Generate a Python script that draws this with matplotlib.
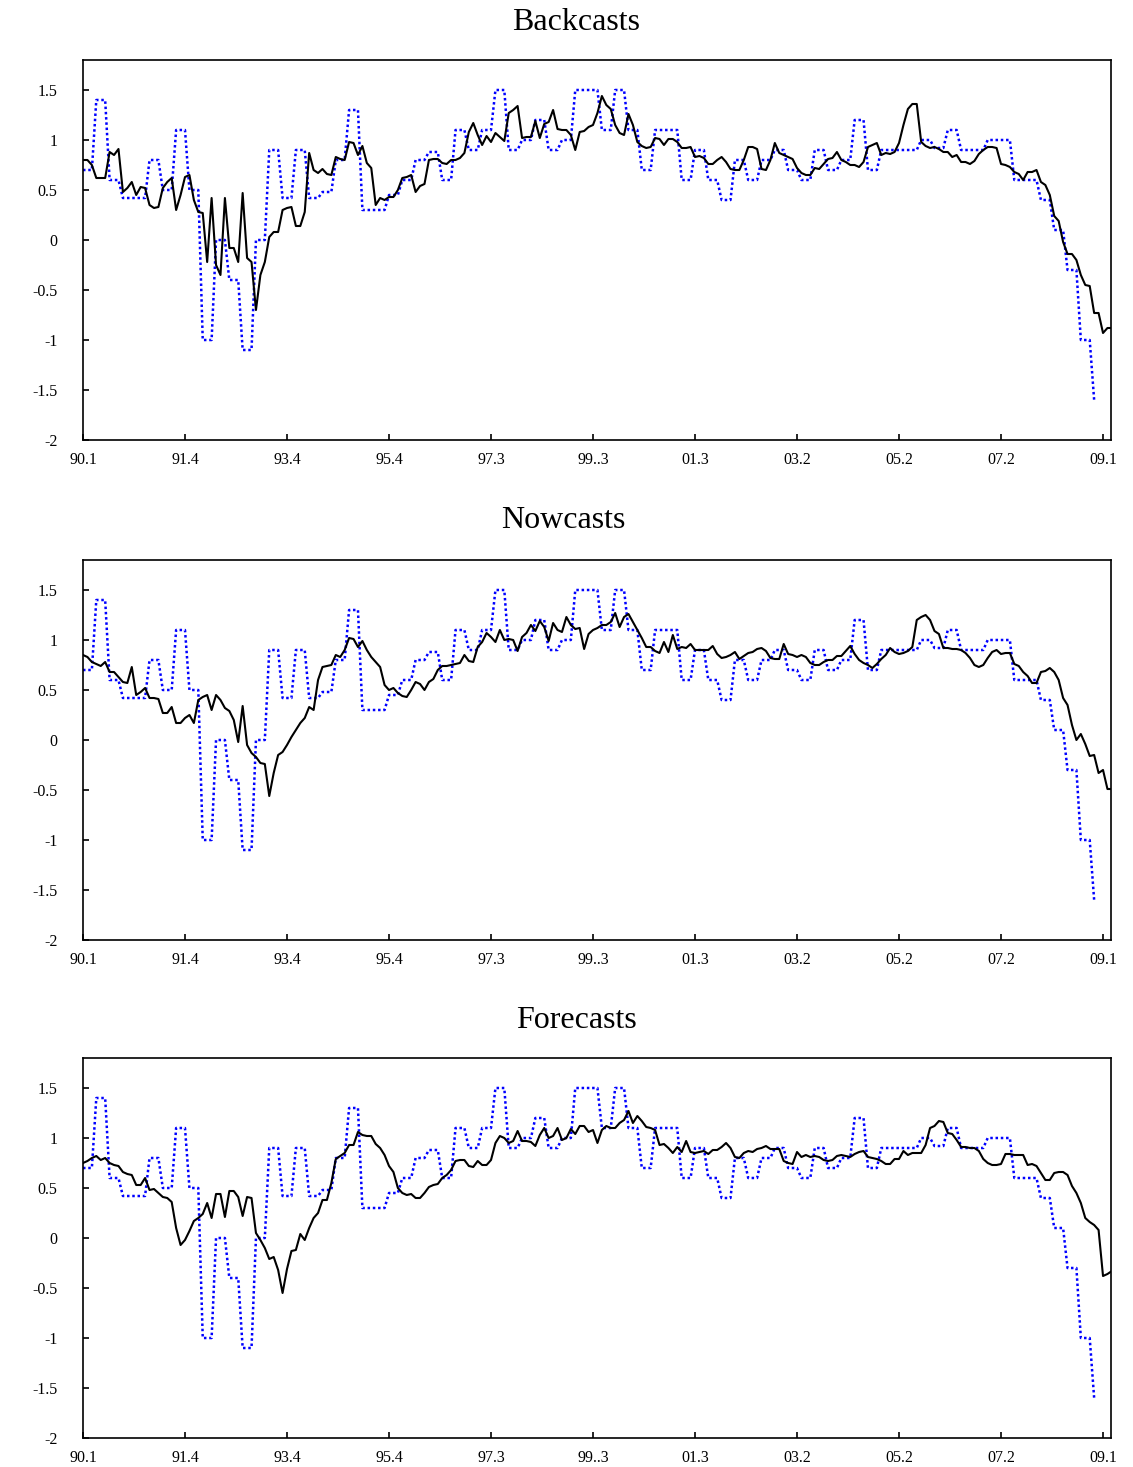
import numpy as np
import matplotlib
matplotlib.use("Agg")
import matplotlib.pyplot as plt

# Quarterly GDP growth (blue dotted step line), 1990Q1 .. 2009Q1
gdp_quarterly = [0.7, 1.4, 0.6, 0.42, 0.42, 0.8, 0.5, 1.1, 0.5, -1.0,
                 0.0, -0.4, -1.1, 0.0, 0.9, 0.42, 0.9, 0.42, 0.48, 0.8,
                 1.3, 0.3, 0.3, 0.45, 0.6, 0.8, 0.88, 0.6, 1.1, 0.9,
                 1.1, 1.5, 0.9, 1.0, 1.2, 0.9, 1.0, 1.5, 1.5, 1.1,
                 1.5, 1.1, 0.7, 1.1, 1.1, 0.6, 0.9, 0.6, 0.4, 0.8,
                 0.6, 0.8, 0.9, 0.7, 0.6, 0.9, 0.7, 0.8, 1.2, 0.7,
                 0.9, 0.9, 0.9, 1.0, 0.92, 1.1, 0.9, 0.9, 1.0, 1.0,
                 0.6, 0.6, 0.4, 0.1, -0.3, -1.0, -1.6]
gdp_monthly_len = 229

backcasts = [0.80, 0.80, 0.75, 0.62, 0.62, 0.62, 0.88, 0.85, 0.91, 0.48,
             0.52, 0.58, 0.45, 0.53, 0.52, 0.35, 0.32, 0.33, 0.52, 0.58,
             0.62, 0.30, 0.45, 0.63, 0.65, 0.40, 0.28, 0.27, -0.22, 0.42,
             -0.25, -0.35, 0.42, -0.08, -0.08, -0.22, 0.47, -0.18, -0.22, -0.70,
             -0.35, -0.22, 0.03, 0.08, 0.08, 0.30, 0.32, 0.33, 0.14, 0.14,
             0.28, 0.87, 0.70, 0.67, 0.71, 0.66, 0.65, 0.83, 0.81, 0.80,
             0.98, 0.97, 0.85, 0.94, 0.77, 0.72, 0.35, 0.42, 0.40, 0.43,
             0.43, 0.50, 0.62, 0.63, 0.65, 0.48, 0.54, 0.56, 0.80, 0.81,
             0.81, 0.77, 0.76, 0.80, 0.80, 0.82, 0.87, 1.08, 1.17, 1.05,
             0.95, 1.04, 0.98, 1.07, 1.03, 0.99, 1.27, 1.30, 1.34, 1.02,
             1.03, 1.03, 1.19, 1.02, 1.16, 1.18, 1.30, 1.11, 1.10, 1.10,
             1.05, 0.90, 1.08, 1.09, 1.13, 1.15, 1.27, 1.44, 1.35, 1.31,
             1.15, 1.07, 1.05, 1.26, 1.15, 0.98, 0.94, 0.92, 0.93, 1.02,
             1.01, 0.95, 1.01, 1.01, 0.98, 0.92, 0.92, 0.93, 0.83, 0.84,
             0.82, 0.76, 0.76, 0.80, 0.83, 0.78, 0.71, 0.70, 0.70, 0.80,
             0.93, 0.93, 0.91, 0.71, 0.70, 0.80, 0.97, 0.87, 0.85, 0.83,
             0.81, 0.72, 0.67, 0.65, 0.65, 0.72, 0.71, 0.76, 0.81, 0.82,
             0.88, 0.80, 0.78, 0.75, 0.75, 0.73, 0.78, 0.93, 0.95, 0.97,
             0.85, 0.87, 0.86, 0.88, 0.97, 1.15, 1.31, 1.36, 1.36, 0.98,
             0.94, 0.92, 0.93, 0.91, 0.88, 0.88, 0.83, 0.85, 0.78, 0.78,
             0.76, 0.79, 0.86, 0.90, 0.93, 0.93, 0.92, 0.76, 0.75, 0.73,
             0.68, 0.66, 0.60, 0.68, 0.68, 0.70, 0.58, 0.55, 0.45, 0.24,
             0.19, -0.02, -0.14, -0.14, -0.20, -0.35, -0.45, -0.46, -0.73, -0.73,
             -0.93, -0.88, -0.88]

nowcasts = [0.85, 0.83, 0.78, 0.76, 0.74, 0.78, 0.68, 0.68, 0.63, 0.58,
            0.57, 0.73, 0.45, 0.48, 0.52, 0.42, 0.42, 0.41, 0.27, 0.27,
            0.33, 0.17, 0.17, 0.22, 0.25, 0.17, 0.40, 0.43, 0.45, 0.30,
            0.45, 0.40, 0.32, 0.29, 0.20, -0.02, 0.34, -0.05, -0.13, -0.17,
            -0.23, -0.24, -0.56, -0.33, -0.15, -0.12, -0.05, 0.03, 0.10, 0.17,
            0.22, 0.33, 0.30, 0.60, 0.73, 0.74, 0.75, 0.85, 0.83, 0.90,
            1.02, 1.01, 0.93, 0.99, 0.90, 0.83, 0.78, 0.73, 0.55, 0.50,
            0.52, 0.47, 0.44, 0.43, 0.50, 0.58, 0.56, 0.50, 0.58, 0.61,
            0.70, 0.74, 0.74, 0.75, 0.76, 0.77, 0.85, 0.79, 0.78, 0.93,
            0.98, 1.07, 1.03, 0.98, 1.10, 1.00, 1.01, 1.00, 0.89, 1.03,
            1.07, 1.15, 1.09, 1.19, 1.13, 0.99, 1.17, 1.10, 1.08, 1.23,
            1.15, 1.11, 1.12, 0.91, 1.06, 1.10, 1.12, 1.15, 1.15, 1.18,
            1.27, 1.13, 1.23, 1.26, 1.18, 1.10, 1.02, 0.93, 0.93, 0.89,
            0.87, 0.98, 0.88, 1.05, 0.91, 0.93, 0.92, 0.96, 0.90, 0.90,
            0.90, 0.90, 0.94, 0.86, 0.82, 0.83, 0.85, 0.88, 0.81, 0.84,
            0.87, 0.88, 0.91, 0.92, 0.89, 0.82, 0.81, 0.81, 0.96, 0.86,
            0.85, 0.83, 0.85, 0.83, 0.77, 0.75, 0.75, 0.78, 0.80, 0.80,
            0.84, 0.84, 0.89, 0.94, 0.86, 0.80, 0.77, 0.75, 0.72, 0.76,
            0.81, 0.85, 0.92, 0.88, 0.86, 0.87, 0.89, 0.93, 1.20, 1.23,
            1.25, 1.20, 1.09, 1.06, 0.92, 0.92, 0.91, 0.91, 0.90, 0.87,
            0.82, 0.75, 0.73, 0.75, 0.82, 0.88, 0.90, 0.86, 0.87, 0.87,
            0.76, 0.74, 0.68, 0.64, 0.57, 0.57, 0.68, 0.69, 0.72, 0.68,
            0.60, 0.42, 0.35, 0.15, 0.00, 0.06, -0.04, -0.16, -0.15, -0.33,
            -0.30, -0.49, -0.49]

forecasts = [0.75, 0.77, 0.80, 0.82, 0.78, 0.80, 0.75, 0.73, 0.72, 0.66,
             0.64, 0.63, 0.53, 0.53, 0.60, 0.48, 0.49, 0.45, 0.41, 0.40,
             0.36, 0.10, -0.07, -0.02, 0.07, 0.17, 0.20, 0.24, 0.35, 0.20,
             0.44, 0.44, 0.21, 0.47, 0.47, 0.41, 0.22, 0.41, 0.40, 0.05,
             -0.02, -0.10, -0.21, -0.19, -0.32, -0.55, -0.31, -0.13, -0.12, 0.04,
             -0.02, 0.10, 0.20, 0.25, 0.38, 0.38, 0.55, 0.79, 0.82, 0.85,
             0.93, 0.93, 1.06, 1.03, 1.02, 1.02, 0.94, 0.90, 0.83, 0.72,
             0.66, 0.50, 0.45, 0.43, 0.44, 0.40, 0.40, 0.45, 0.51, 0.53,
             0.54, 0.60, 0.63, 0.68, 0.77, 0.78, 0.78, 0.72, 0.71, 0.77,
             0.73, 0.73, 0.78, 0.95, 1.02, 1.00, 0.95, 0.97, 1.07, 0.97,
             0.97, 0.96, 0.92, 1.03, 1.10, 1.00, 1.02, 1.10, 0.98, 1.00,
             1.09, 1.04, 1.12, 1.12, 1.06, 1.08, 0.95, 1.08, 1.12, 1.10,
             1.10, 1.15, 1.18, 1.27, 1.15, 1.22, 1.17, 1.11, 1.10, 1.08,
             0.93, 0.94, 0.90, 0.85, 0.91, 0.86, 0.97, 0.86, 0.85, 0.86,
             0.87, 0.84, 0.88, 0.88, 0.91, 0.95, 0.90, 0.81, 0.80, 0.85,
             0.87, 0.86, 0.89, 0.90, 0.92, 0.89, 0.89, 0.89, 0.77, 0.75,
             0.74, 0.86, 0.81, 0.83, 0.81, 0.82, 0.81, 0.78, 0.77, 0.78,
             0.82, 0.83, 0.82, 0.81, 0.84, 0.86, 0.87, 0.81, 0.80, 0.79,
             0.77, 0.74, 0.74, 0.79, 0.79, 0.87, 0.83, 0.85, 0.85, 0.85,
             0.93, 1.10, 1.12, 1.17, 1.16, 1.05, 1.04, 0.98, 0.91, 0.91,
             0.90, 0.90, 0.87, 0.79, 0.75, 0.73, 0.73, 0.74, 0.84, 0.84,
             0.83, 0.83, 0.83, 0.73, 0.74, 0.72, 0.65, 0.58, 0.58, 0.65,
             0.66, 0.66, 0.63, 0.52, 0.45, 0.35, 0.20, 0.16, 0.13, 0.08,
             -0.38, -0.36, -0.33]

titles = ["Backcasts", "Nowcasts", "Forecasts"]
x_tick_labels = ["90.1", "91.4", "93.4", "95.4", "97.3", "99..3",
                 "01.3", "03.2", "05.2", "07.2", "09.1"]
y_ticks = [-2, -1.5, -1, -0.5, 0, 0.5, 1, 1.5]
y_tick_labels = ["-2", "-1.5", "-1", "-0.5", "0", "0.5", "1", "1.5"]

W, H = 1133, 1467
fig = plt.figure(figsize=(W / 100, H / 100), dpi=100)
serif = ["Liberation Serif", "DejaVu Serif"]

gdp_m = np.repeat(np.array(gdp_quarterly), 3)[:gdp_monthly_len]
series = [backcasts, nowcasts, forecasts]
panel_tops = [60, 560, 1058]
title_pos = [(576, 22), (563, 521), (576, 1020)]
left, right = 83, 1111
ph = 380

for s, top, ttl, tp in zip(series, panel_tops, titles, title_pos):
    ax = fig.add_axes([left / W, 1 - (top + ph) / H, (right - left) / W, ph / H])
    xs = np.arange(len(s))
    ax.plot(np.arange(len(gdp_m)), gdp_m, color="#0000ff", lw=1.8,
            linestyle=(0, (1.0, 1.1)), zorder=2)
    ax.plot(xs, s, color="black", lw=1.5, zorder=3)
    ax.set_xlim(0, 231.8)
    ax.set_ylim(-2, 1.8)
    xt = np.arange(len(x_tick_labels)) * 23
    ax.set_xticks(xt)
    ax.set_xticklabels(x_tick_labels, fontfamily=serif, fontsize=11.5)
    ax.set_yticks(y_ticks)
    ax.set_yticklabels(y_tick_labels, fontfamily=serif, fontsize=11.5)
    ax.tick_params(axis="both", direction="in", length=4, width=1.2)
    ax.tick_params(axis="y", pad=18.5)
    ax.tick_params(axis="x", pad=9)
    for sp in ax.spines.values():
        sp.set_linewidth(1.2)
    fig.text(tp[0] / W, 1 - tp[1] / H, ttl, ha="center", va="center",
             fontsize=23, fontfamily=serif)

fig.savefig("out.png", dpi=100)
